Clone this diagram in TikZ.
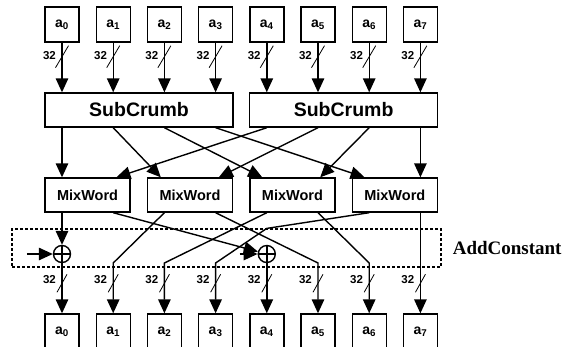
\documentclass[tikz,border=0pt]{standalone}
\usepackage{fontspec}
\setmainfont{Liberation Serif}
\setsansfont{Liberation Sans}
\usetikzlibrary{arrows.meta, positioning, calc}
\tikzset{
    word node/.style={rectangle, draw, line width=1.4pt, minimum width=34pt, minimum height=35pt, inner sep=0pt, font=\sffamily\bfseries\fontsize{14}{16}\selectfont},
    crumb node/.style={rectangle, draw, line width=1.4pt, minimum width=188pt, minimum height=34pt, inner sep=0pt, font=\sffamily\bfseries\fontsize{19.5}{22}\selectfont},
    mix node/.style={rectangle, draw, line width=1.4pt, minimum width=85pt, minimum height=34pt, inner sep=0pt, font=\sffamily\bfseries\fontsize{14.5}{16}\selectfont},
    xor node/.style={circle, draw, line width=1.4pt, minimum size=17pt, inner sep=0pt,
        path picture={\draw[line width=1.4pt] (path picture bounding box.north) -- (path picture bounding box.south)
            (path picture bounding box.west) -- (path picture bounding box.east);}},
    ac box/.style={rectangle, draw, line width=1.2pt, dash pattern=on 3pt off 2pt, minimum width=429pt, minimum height=38pt, inner sep=0pt},
    ac label/.style={inner sep=0pt, font=\rmfamily\bfseries\fontsize{19}{22}\selectfont},
    arrow style/.style={-{Triangle[length=14pt, width=12.5pt]}, line width=1.4pt},
    bus mark/.style={line width=0.8pt},
    bus label/.style={inner sep=0pt, anchor=east, font=\sffamily\bfseries\fontsize{11.5}{13}\selectfont},
}
\begin{document}
\begin{tikzpicture}[x=1pt, y=-1pt]
    \useasboundingbox (0,0) rectangle (563,346);

    % words in and out
    \foreach \i in {0,...,7} {
        \node[word node] (in\i) at ({62+51.2*\i},24.5) {a\textsubscript{\i}};
        \node[word node] (out\i) at ({62+51.2*\i},331.5) {a\textsubscript{\i}};
    }

    \node[crumb node] (sc1) at (139,110) {SubCrumb};
    \node[crumb node] (sc2) at (343.6,110) {SubCrumb};

    \node[mix node] (mw1) at (87.6,195) {MixWord};
    \node[mix node] (mw2) at (190,195) {MixWord};
    \node[mix node] (mw3) at (292.4,195) {MixWord};
    \node[mix node] (mw4) at (394.8,195) {MixWord};

    \node[ac box] (acbox) at (226.5,248) {};
    \node[ac label, right=11pt of acbox] (aclabel) {AddConstant};

    \node[xor node] (xor1) at (in0 |- 0,254) {};
    \node[xor node] (xor2) at (in4 |- 0,254) {};
    \coordinate[left=26pt of xor1.west] (key1);
    \coordinate[left=18pt of xor2.west] (key2);
    \coordinate (kink) at (0,263);

    % 32-bit buses
    \foreach \i in {0,...,3} {
        \draw[arrow style] (in\i) -- (sc1.north -| in\i);
    }
    \foreach \i in {4,...,7} {
        \draw[arrow style] (in\i) -- (sc2.north -| in\i);
    }
    \foreach \i in {0,...,7} {
        \draw[bus mark] ($(in\i.south)+(-6.5,25)$) -- ++(13,-22);
        \node[bus label] (wt\i) at ($(in\i.south)+(-6,13)$) {32};
        \draw[bus mark] ($(out\i.north)+(-5,-21)$) -- ++(10,-18);
        \node[bus label] (wb\i) at ($(out\i.north)+(-6,-34)$) {32};
    }

    % SubCrumb to MixWord
    \draw[arrow style] (sc1.south -| in0) -- (mw1.north -| in0);
    \draw[arrow style] (sc1.south -| in1) -- ($(mw2.north west)+(14,0)$);
    \draw[arrow style] (sc1.south -| in2) -- ($(mw3.north west)+(13,0)$);
    \draw[arrow style] (sc1.south -| in3) -- ($(mw4.north west)+(13,0)$);
    \draw[arrow style] (sc2.south -| in4) -- ($(mw1.north west)+(72,0)$);
    \draw[arrow style] (sc2.south -| in5) -- ($(mw2.north west)+(72,0)$);
    \draw[arrow style] (sc2.south -| in6) -- ($(mw3.north west)+(71,0)$);
    \draw[arrow style] (sc2.south -| in7) -- (mw4.north -| in7);

    % MixWord to output words
    \draw[arrow style] (mw1.south -| in0) -- (xor1);
    \draw[arrow style] (mw1.south -| in1) -- (xor2);
    \draw[arrow style] (key1) -- (xor1);
    \draw[arrow style] (key2) -- (xor2);
    \draw[arrow style] (xor1) -- (out0);
    \draw[arrow style] (xor2) -- (out4);
    \draw[arrow style] (mw2.south -| in2) -- (kink -| in1) -- (out1);
    \draw[arrow style] (mw2.south -| in3) -- (kink -| in5) -- (out5);
    \draw[arrow style] (mw3.south -| in4) -- (kink -| in2) -- (out2);
    \draw[arrow style] (mw3.south -| in5) -- (kink -| in6) -- (out6);
    \draw[arrow style] (mw4.south -| in6) -- (acbox.north -| xor2) -- (kink -| in3) -- (out3);
    \draw[arrow style] (mw4.south -| in7) -- (out7);
\end{tikzpicture}
\end{document}
